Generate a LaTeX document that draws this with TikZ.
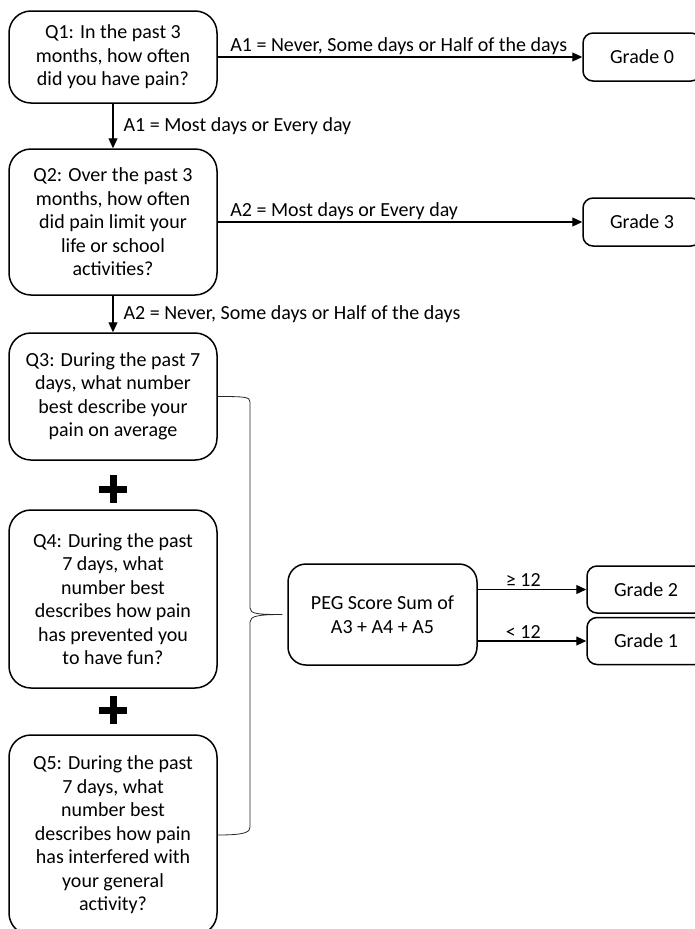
\documentclass[tikz,border=0pt]{standalone}
\usepackage{fontspec}
\setmainfont{Carlito}
\usetikzlibrary{arrows.meta}

\begin{document}
\begin{tikzpicture}[x=1pt,y=-1pt,
  font=\fontsize{20}{23.5}\selectfont,
  qbox/.style={draw,line width=1.5pt,rounded corners=22pt,minimum width=208pt,align=center,inner sep=0pt},
  gradebox/.style={draw,line width=1.5pt,rounded corners=10pt,minimum width=118pt,minimum height=48pt,inner sep=0pt},
  arr/.style={-{Triangle[length=10pt,width=9pt]},line width=1.2pt},
  lbl/.style={inner sep=2pt},
  plussign/.style={minimum size=28pt,inner sep=0pt,path picture={\draw[line width=7pt] (path picture bounding box.north) -- (path picture bounding box.south) (path picture bounding box.west) -- (path picture bounding box.east);}},
  bracepath/.style={line width=0.8pt,draw=black!85}]
\useasboundingbox (0,0) rectangle (695,929);

\node[qbox,minimum height=92pt] (q1) at (113,57) {Q1: In the past 3\\months, how often\\did you have pain?};
\node[qbox,minimum height=146pt] (q2) at (113,222) {Q2: Over the past 3\\months, how often\\did pain limit your\\life or school\\activities?};
\node[qbox,minimum height=127pt] (q3) at (113,396.5) {Q3: During the past 7\\days, what number\\best describe your\\pain on average};
\node[plussign] (plus1) at (113,489) {};
\node[qbox,minimum height=178pt] (q4) at (113,599) {Q4: During the past\\7 days, what\\number best\\describes how pain\\has prevented you\\to have fun?};
\node[plussign] (plus2) at (113,710) {};
\node[qbox,minimum height=200pt] (q5) at (113,835) {Q5: During the past\\7 days, what\\number best\\describes how pain\\has interfered with\\your general\\activity?};

\node[gradebox] (g0) at (642,57) {Grade 0};
\node[gradebox] (g3) at (642,222) {Grade 3};
\node[qbox,rounded corners=18pt,minimum width=189pt,minimum height=101pt] (peg) at (382.5,614.5) {PEG Score Sum of\\A3 + A4 + A5};
\node[gradebox,minimum height=47pt] (g2) at (646,589.5) {Grade 2};
\node[gradebox,minimum height=47pt] (g1) at (646,641) {Grade 1};

\path[arr] (q1.east) edge node[lbl,pos=0,anchor=south west,xshift=10pt] {A1 = Never, Some days or Half of the days} (q1.east -| g0.west);
\path[arr] (q1) edge node[lbl,right,xshift=8pt] {A1 = Most days or Every day} (q2);
\path[arr] (q2.east) edge node[lbl,pos=0,anchor=south west,xshift=10pt] {A2 = Most days or Every day} (q2.east -| g3.west);
\path[arr] (q2) edge node[lbl,right,xshift=8pt] {A2 = Never, Some days or Half of the days} (q3);
\path[arr] (peg.east |- g2.west) edge node[lbl,above,pos=0.42] {≥ 12} (g2.west);
\path[arr] (peg.east |- g1.west) edge node[lbl,above,pos=0.42] {< 12} (g1.west);

\coordinate (tip) at ([xshift=-5pt]peg.west);
\draw[bracepath] (q3.east) .. controls +(28,0) and +(0,-5) .. (250,402) -- (250,608) .. controls +(0,6) and +(-24,0) .. (tip) .. controls +(-24,0) and +(0,-6) .. (250,622) -- (250,827) .. controls +(0,5) and +(28,0) .. (q5.east);

\end{tikzpicture}
\end{document}
